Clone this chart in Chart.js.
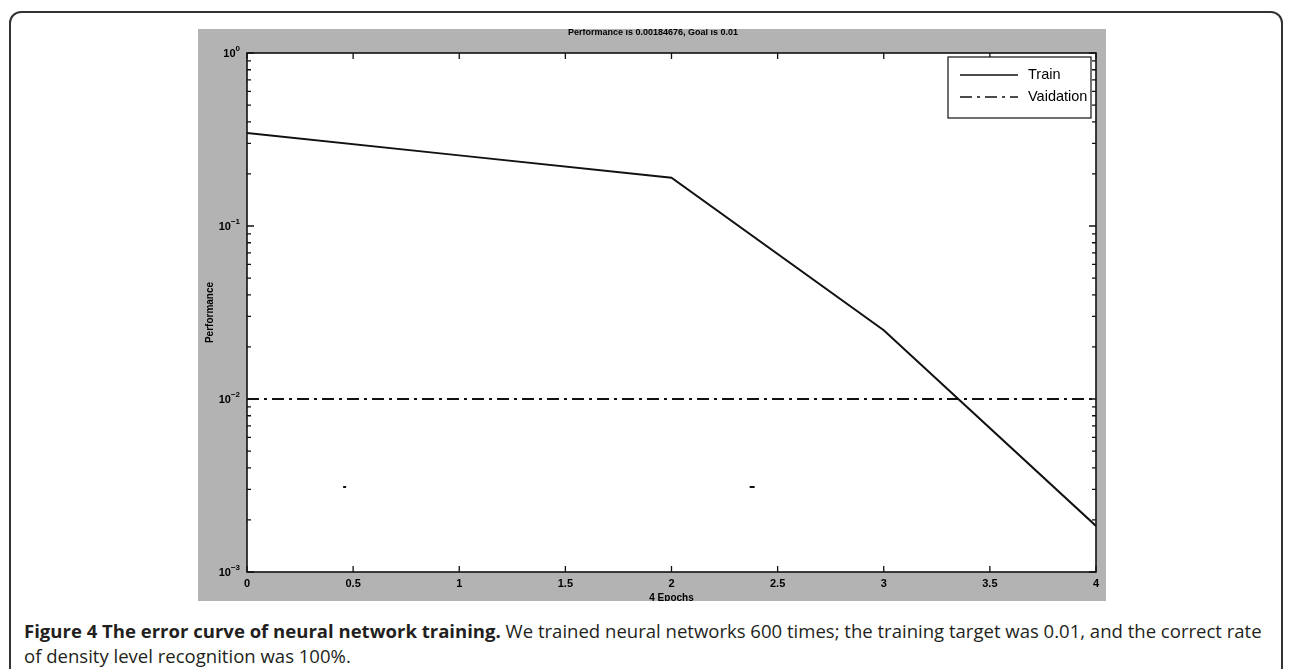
<!DOCTYPE html>
<html>
<head>
<meta charset="utf-8">
<script src="https://cdn.jsdelivr.net/npm/chart.js@4.4.1/dist/chart.umd.min.js"></script>
<style>
  html, body { margin: 0; padding: 0; background: #fff; width: 1292px; height: 669px; overflow: hidden; }
  #frame { position: absolute; left: 9px; top: 11px; width: 1274px; height: 720px; border: 2px solid #333; border-radius: 12px; box-sizing: border-box; }
  #fig { position: absolute; left: 198px; top: 29px; width: 908px; height: 572px; background: #b3b3b3; }
  #fig canvas { display: block; }
  #caption { position: absolute; left: 24px; top: 618px; font-family: "Open Sans", "Noto Sans", sans-serif; font-size: 16px; line-height: 25px; color: #231f20; white-space: nowrap; }
  #caption b { font-weight: 700; }
</style>
</head>
<body>
<div id="frame"></div>
<div id="fig"><canvas id="perf" width="908" height="572"></canvas></div>
<div id="caption"><span id="cap1"><b>Figure 4 The error curve of neural network training.</b> We trained neural networks 600 times; the training target was 0.01, and the correct rate</span><br><span>of density level recognition was 100%.</span></div>
<script>
// Training record: performance (mse) per epoch
const epochs = [0, 1, 2, 3, 4];
const trainPerf = [0.345, 0.256, 0.19, 0.025, 0.00184676];
// Performance goal drawn across all epochs
const goalEpochs = [0, 4];
const goalPerf = [0.01, 0.01];
// Two stray markers in the lower half of the axes
const markEpochs = [0.46, 2.38];
const markPerf = [0.0031, 0.0031];
// Axis ticks
const xTicks = [0, 0.5, 1, 1.5, 2, 2.5, 3, 3.5, 4];
const yDecades = [-3, -2, -1, 0];
const seriesNames = ['Train', 'Vaidation'];
const xTitle = '4 Epochs';
const yTitle = 'Performance';
const titleText = `Performance is ${trainPerf[trainPerf.length - 1]}, Goal is ${goalPerf[0]}`;

const INK = '#111';
const DASH_DOT = [12, 5, 3, 5];
const FONT = '"Liberation Sans", Arial, sans-serif';

const toPoints = (xs, ys) => xs.map((x, i) => ({ x: x, y: ys[i] }));

const matlabAxes = {
  id: 'matlabAxes',
  beforeDatasetsDraw(chart) {
    const { ctx, chartArea: a } = chart;
    ctx.save();
    ctx.fillStyle = '#fff';
    ctx.fillRect(a.left, a.top, a.right - a.left, a.bottom - a.top);
    ctx.restore();
  },
  afterDraw(chart) {
    const { ctx, chartArea: a } = chart;
    const xs = chart.scales.x, ys = chart.scales.y;
    ctx.save();
    ctx.strokeStyle = INK;
    ctx.fillStyle = '#000';

    // axes box
    ctx.lineWidth = 1.6;
    ctx.strokeRect(a.left, a.top, a.right - a.left, a.bottom - a.top);

    // inward ticks, log y (left and right)
    ctx.lineWidth = 1.3;
    ctx.beginPath();
    for (const d of yDecades) {
      for (let m = 1; m <= 9; m++) {
        if (d === 0 && m > 1) break;
        const py = ys.getPixelForValue(m * Math.pow(10, d));
        const len = m === 1 ? 7 : 4;
        ctx.moveTo(a.left, py); ctx.lineTo(a.left + len, py);
        ctx.moveTo(a.right, py); ctx.lineTo(a.right - len, py);
      }
    }
    // inward ticks, x (bottom and top)
    for (const v of xTicks) {
      const px = xs.getPixelForValue(v);
      ctx.moveTo(px, a.bottom); ctx.lineTo(px, a.bottom - 6);
      ctx.moveTo(px, a.top); ctx.lineTo(px, a.top + 6);
    }
    ctx.stroke();

    // x tick labels
    ctx.font = 'bold 11px ' + FONT;
    ctx.textAlign = 'center';
    ctx.textBaseline = 'middle';
    for (const v of xTicks) {
      ctx.fillText(String(v), xs.getPixelForValue(v), a.bottom + 12);
    }

    // y tick labels 10^d
    for (const d of yDecades) {
      const py = ys.getPixelForValue(Math.pow(10, d));
      const expo = String(d).replace('-', '\u2212');
      ctx.font = 'bold 8px ' + FONT;
      ctx.textAlign = 'right';
      ctx.textBaseline = 'middle';
      const ex = a.left - 7;
      ctx.fillText(expo, ex, py - 4);
      const ew = ctx.measureText(expo).width;
      ctx.font = 'bold 11px ' + FONT;
      ctx.fillText('10', ex - ew, py + 1);
    }

    // title and axis titles
    ctx.textAlign = 'center';
    ctx.textBaseline = 'middle';
    ctx.font = 'bold 9px ' + FONT;
    ctx.fillText(titleText, 455, 4);
    ctx.font = 'bold 10px ' + FONT;
    ctx.fillText(xTitle, (a.left + a.right) / 2, a.bottom + 26);
    ctx.save();
    ctx.translate(12, (a.top + a.bottom) / 2);
    ctx.rotate(-Math.PI / 2);
    ctx.fillText(yTitle, 0, 0);
    ctx.restore();

    // legend box
    const lw = 143, lh = 61;
    const lx = a.right - 5 - lw, ly = a.top + 4;
    ctx.fillStyle = '#fff';
    ctx.fillRect(lx, ly, lw, lh);
    ctx.lineWidth = 1.2;
    ctx.strokeRect(lx, ly, lw, lh);
    ctx.font = '14.5px ' + FONT;
    ctx.textAlign = 'left';
    chart.data.datasets.slice(0, 2).forEach((ds, i) => {
      const yy = ly + 18 + i * 22;
      ctx.strokeStyle = ds.borderColor;
      ctx.lineWidth = 1.6;
      ctx.setLineDash(ds.borderDash || []);
      ctx.beginPath();
      ctx.moveTo(lx + 12, yy); ctx.lineTo(lx + 70, yy);
      ctx.stroke();
      ctx.setLineDash([]);
      ctx.fillStyle = '#000';
      ctx.fillText(ds.label, lx + 80, yy);
    });
    ctx.restore();
  }
};

new Chart(document.getElementById('perf'), {
  type: 'line',
  data: {
    datasets: [
      { label: seriesNames[0], data: toPoints(epochs, trainPerf), borderColor: INK, borderWidth: 2, pointRadius: 0, tension: 0 },
      { label: seriesNames[1], data: toPoints(goalEpochs, goalPerf), borderColor: INK, borderWidth: 2, borderDash: DASH_DOT, pointRadius: 0, tension: 0 },
      { label: 'marks', data: toPoints(markEpochs, markPerf), showLine: false, pointStyle: 'line', pointRadius: [1.5, 2.5], borderColor: INK, borderWidth: 2 }
    ]
  },
  plugins: [matlabAxes],
  options: {
    responsive: false,
    animation: false,
    devicePixelRatio: 1,
    layout: { padding: { left: 0, top: 24, right: 10, bottom: 0 } },
    plugins: { legend: { display: false }, tooltip: { enabled: false }, title: { display: false } },
    scales: {
      x: {
        type: 'linear', min: 0, max: 4,
        grid: { display: false, drawTicks: false },
        border: { display: false },
        ticks: { display: false },
        afterFit: s => { s.height = 29; }
      },
      y: {
        type: 'logarithmic', min: 0.001, max: 1,
        grid: { display: false, drawTicks: false },
        border: { display: false },
        ticks: { display: false },
        afterFit: s => { s.width = 49; }
      }
    }
  }
});

// fit the first caption line to the column width
const cap1 = document.getElementById('cap1');
const capBox = document.getElementById('caption');
const w = cap1.getBoundingClientRect().width;
capBox.style.fontSize = (16 * 1238 / w).toFixed(2) + 'px';
</script>
</body>
</html>
